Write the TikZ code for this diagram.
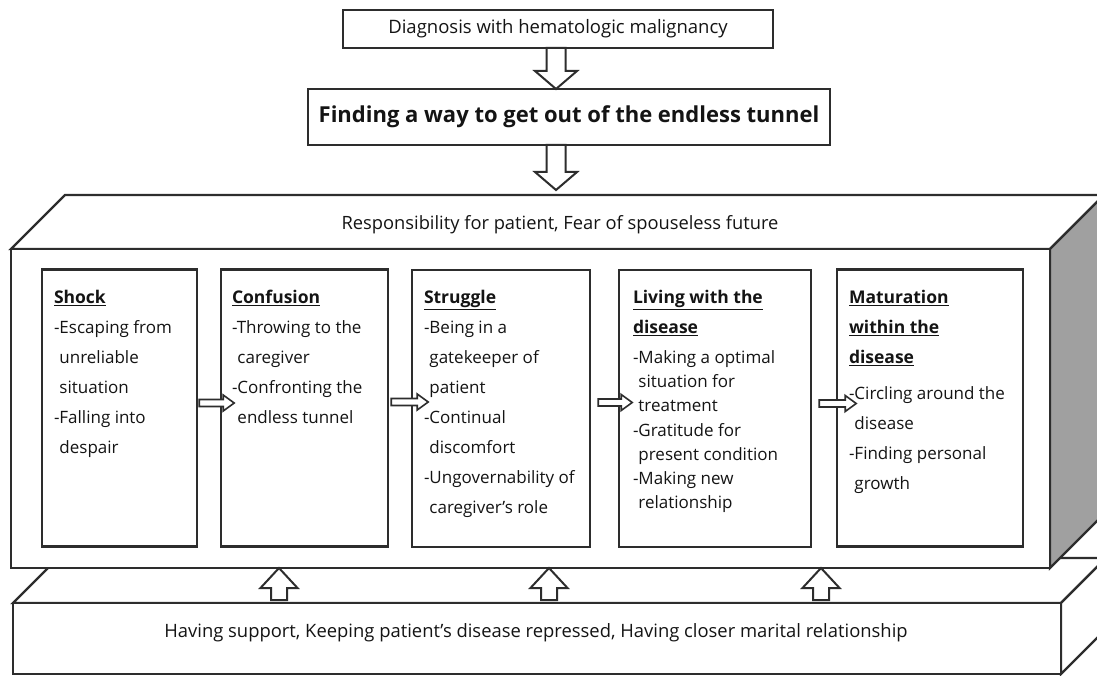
\documentclass[tikz,border=0pt]{standalone}
\usepackage{fontspec}
\setmainfont{Open Sans}
\usetikzlibrary{calc}
\definecolor{ln}{RGB}{45,45,45}
\definecolor{tx}{RGB}{20,20,20}
\definecolor{side}{RGB}{160,160,160}
\tikzset{
  edge3d/.style={draw=ln, line width=2.4pt, line join=miter},
  stagebox/.style={draw=ln, line width=2.4pt, fill=white, rectangle, inner sep=0pt},
  stagetext/.style={anchor=north west, align=left, inner sep=0pt, text=tx,
    font=\fontsize{17}{30}\selectfont},
  topbox/.style={draw=ln, line width=2.4pt, fill=white, rectangle, inner sep=0pt, text=tx},
  blk/.style={draw=ln, line width=2pt, fill=white, line join=miter},
  pics/downarr/.style={code={
    \draw[blk] (-9.5,0) -- (9.5,0) -- (9.5,#1-18) -- (21,#1-18) -- (0,#1)
      -- (-21,#1-18) -- (-9.5,#1-18) -- cycle;}},
  pics/rarr/.style={code={
    \draw[blk, line width=1.6pt] (0,-3.5) -- (#1-11,-3.5) -- (#1-11,-8) -- (#1,0)
      -- (#1-11,8) -- (#1-11,3.5) -- (0,3.5) -- cycle;}},
  pics/uparr/.style={code={
    \draw[blk] (0,0) -- (18.5,20) -- (8,20) -- (8,32) -- (-8,32) -- (-8,20)
      -- (-18.5,20) -- cycle;}},
}
\newcommand{\ttl}[1]{\underline{\textbf{\fontsize{17.5}{30}\selectfont #1}}}
\begin{document}
\begin{tikzpicture}[x=1pt,y=-1pt]
\useasboundingbox (0,0) rectangle (1097,676);
\clip (0,0) rectangle (1097,676);
\fill[white] (0,0) rectangle (1097,676);

% lower slab
\coordinate (lftl) at (13,603);
\coordinate (lftr) at (1061,603);
\coordinate (lfbr) at (1061,674);
\coordinate (lfbl) at (13,674);
\coordinate (lbtl) at (58,558);
\coordinate (lbtr) at (1106,558);
\coordinate (lbbr) at (1106,629);
\draw[edge3d, fill=white] (lftl) -- (lbtl) -- (lbtr) -- (lftr) -- cycle;
\draw[edge3d, fill=white] (lftr) -- (lbtr) -- (lbbr) -- (lfbr) -- cycle;
\draw[edge3d, fill=white] (lftl) rectangle (lfbr);

% main block
\coordinate (mftl) at (11,249);
\coordinate (mftr) at (1050,249);
\coordinate (mfbr) at (1050,568);
\coordinate (mfbl) at (11,568);
\coordinate (mbtl) at (65,195);
\coordinate (mbtr) at (1104,195);
\coordinate (mbbr) at (1104,514);
\draw[edge3d, fill=white] (mftl) -- (mbtl) -- (mbtr) -- (mftr) -- cycle;
\draw[edge3d, fill=side] (mftr) -- (mbtr) -- (mbbr) -- (mfbr) -- cycle;
\draw[edge3d, fill=white] (mftl) rectangle (mfbr);

% texts on slabs
\node[text=tx, font=\fontsize{18.3}{22}\selectfont] (resp) at (560,225)
  {Responsibility for patient, Fear of spouseless future};
\node[text=tx, font=\fontsize{18.4}{22}\selectfont] (supp) at (536,633)
  {Having support, Keeping patient’s disease repressed, Having closer marital relationship};

% top boxes
\node[topbox, minimum width=430, minimum height=38, font=\fontsize{18.5}{22}\selectfont]
  (diag) at (558,29) {Diagnosis with hematologic malignancy};
\node[topbox, minimum width=522, minimum height=56, font=\fontsize{22}{26}\selectfont\bfseries]
  (find) at (569,117) {Finding a way to get out of the endless tunnel};
\coordinate (d1) at (556,48);
\coordinate (d2) at (556,145);
\pic at (d1) {downarr=41};
\pic at (d2) {downarr=45};

% stage boxes
\node[stagebox, minimum width=155, minimum height=277] (b1) at (119.5,408) {};
\node[stagebox, minimum width=167, minimum height=277] (b2) at (304.5,408) {};
\node[stagebox, minimum width=178, minimum height=277] (b3) at (501,408.5) {};
\node[stagebox, minimum width=192, minimum height=277] (b4) at (715,408.5) {};
\node[stagebox, minimum width=186, minimum height=277] (b5) at (930,408) {};

\node[stagetext] (t1) at ($(b1.north west)+(13,22)$)
  {\ttl{Shock}\\-Escaping from\\\phantom{-}unreliable\\\phantom{-}situation\\-Falling into\\\phantom{-}despair};
\node[stagetext] (t2) at ($(b2.north west)+(12,22)$)
  {\ttl{Confusion}\\-Throwing to the\\\phantom{-}caregiver\\-Confronting the\\\phantom{-}endless tunnel};
\node[stagetext] (t3) at ($(b3.north west)+(13,21)$)
  {\ttl{Struggle}\\-Being in a\\\phantom{-}gatekeeper of\\\phantom{-}patient\\-Continual\\\phantom{-}discomfort\\-Ungovernability of\\\phantom{-}caregiver’s role};
\node[stagetext] (t4) at ($(b4.north west)+(15,21)$)
  {\ttl{Living with the}\\\ttl{disease}\\-Making a optimal\\[-6pt]\phantom{-}situation for\\[-6pt]\phantom{-}treatment\\[-5pt]-Gratitude for\\[-6pt]\phantom{-}present condition\\[-6pt]-Making new\\[-6pt]\phantom{-}relationship};
\node[stagetext] (t5) at ($(b5.north west)+(13,22)$)
  {\ttl{Maturation}\\\ttl{within the}\\\ttl{disease}\\[6pt]-Circling around the\\\phantom{-}disease\\-Finding personal\\\phantom{-}growth};

% small arrows between stages
\coordinate (r1) at ($(b1.east)+(1,-5)$);
\coordinate (r2) at ($(b2.east)+(2,-6)$);
\coordinate (r3) at ($(b3.east)+(7,-6)$);
\coordinate (r4) at ($(b4.east)+(7,-5)$);
\pic at (r1) {rarr=35};
\pic at (r2) {rarr=37};
\pic at (r3) {rarr=34};
\pic at (r4) {rarr=37};

% up arrows
\coordinate (u1) at (279,568);
\coordinate (u2) at (549,568);
\coordinate (u3) at (821,568);
\pic at (u1) {uparr};
\pic at (u2) {uparr};
\pic at (u3) {uparr};
\end{tikzpicture}
\end{document}
